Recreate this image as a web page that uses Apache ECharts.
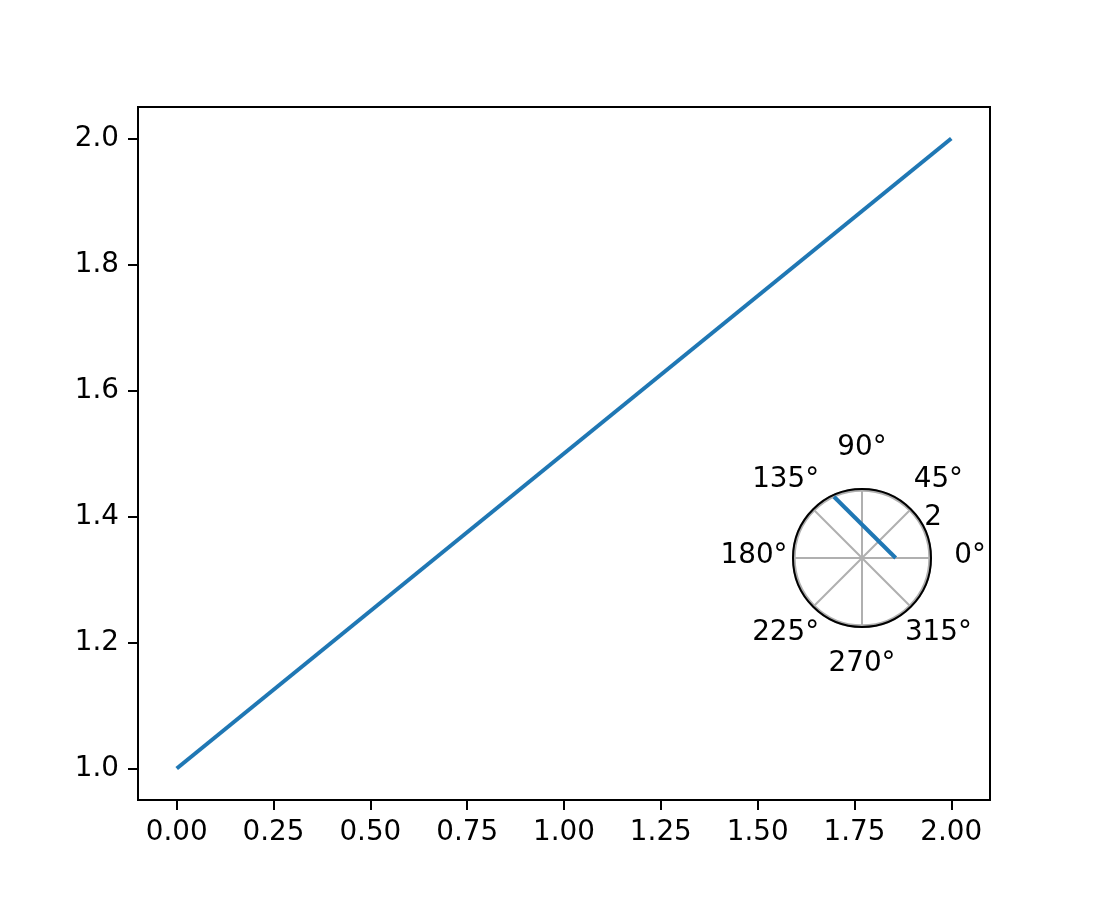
<!DOCTYPE html>
<html>
<head>
<meta charset="utf-8">
<script src="https://cdn.jsdelivr.net/npm/echarts@6/dist/echarts.min.js"></script>
<style>
html,body{margin:0;padding:0;background:#fff;}
#chart{width:1100px;height:900px;}
</style>
</head>
<body>
<div id="chart"></div>
<script>
// main axes data
const xValues = [0, 2];
const yValues = [1, 2];
const xTicks = [0, 0.25, 0.5, 0.75, 1.0, 1.25, 1.5, 1.75, 2.0];
const yTicks = [1.0, 1.2, 1.4, 1.6, 1.8, 2.0];
// polar inset data (theta in radians, r)
const thetaRad = [0, 2];
const rValues = [1, 2];
const angleTicks = [0, 45, 90, 135, 180, 225, 270, 315];
const angleTickLabels = ['0°', '45°', '90°', '135°', '180°', '225°', '270°', '315°'];
const rTicks = [2];
const rTickLabels = ['2'];

const FONT = 'DejaVu Sans';
const FS = 27.8;
const BLUE = '#1f77b4';
const PCX = 862, PCY = 558, PR = 69;

const mainData = xValues.map((x, i) => [x, yValues[i]]);
const polarData = thetaRad.map((t, i) => [rValues[i], t * 180 / Math.PI]);

const chart = echarts.init(document.getElementById('chart'), null, {renderer: 'canvas'});

const option = {
  backgroundColor: '#fff',
  animation: false,
  grid: {
    left: 138, right: 110, top: 107, bottom: 100,
    show: true, borderColor: '#000', borderWidth: 2, backgroundColor: 'transparent'
  },
  xAxis: {
    type: 'value', min: -0.1, max: 2.1,
    axisLine: {show: false, onZero: false},
    splitLine: {show: false},
    axisTick: {show: true, customValues: xTicks, length: 10, lineStyle: {color: '#000', width: 2}},
    axisLabel: {
      customValues: xTicks, margin: 19, color: '#000', fontFamily: FONT, fontSize: FS,
      formatter: v => Number(v).toFixed(2)
    }
  },
  yAxis: {
    type: 'value', min: 0.95, max: 2.05,
    axisLine: {show: false, onZero: false},
    splitLine: {show: false},
    axisTick: {show: true, customValues: yTicks, length: 10, lineStyle: {color: '#000', width: 2}},
    axisLabel: {
      customValues: yTicks, margin: 19, color: '#000', fontFamily: FONT, fontSize: FS,
      formatter: v => Number(v).toFixed(1)
    }
  },
  polar: {center: [PCX, PCY], radius: PR},
  angleAxis: {
    type: 'value', min: 0, max: 360, interval: 45, startAngle: 0, clockwise: false,
    z: 5,
    axisLine: {show: true, lineStyle: {color: '#000', width: 2}},
    axisTick: {show: false},
    axisLabel: {show: false},
    splitLine: {show: true, lineStyle: {color: '#b0b0b0', width: 2}}
  },
  radiusAxis: {
    type: 'value', min: 0, max: 2.05, interval: 2,
    z: 1,
    axisLine: {show: false},
    axisTick: {show: false},
    axisLabel: {show: false},
    splitLine: {show: true, lineStyle: {color: '#b0b0b0', width: 2}}
  },
  series: [
    {
      type: 'line', xAxisIndex: 0, yAxisIndex: 0, data: mainData,
      showSymbol: false, symbol: 'none',
      lineStyle: {color: BLUE, width: 4}, z: 3
    },
    {
      type: 'line', coordinateSystem: 'polar', polarIndex: 0, data: polarData,
      showSymbol: false, symbol: 'none',
      lineStyle: {color: BLUE, width: 4}, z: 10
    }
  ]
};
chart.setOption(option);

// polar tick labels placed around the inset
const RL = 108;
const graphics = [];
angleTicks.forEach((deg, i) => {
  const a = deg * Math.PI / 180;
  graphics.push({
    type: 'text', z: 20,
    x: PCX + RL * Math.cos(a), y: PCY - RL * Math.sin(a) - 2,
    style: {text: angleTickLabels[i], font: FS + 'px "' + FONT + '"', fill: '#000', align: 'center', verticalAlign: 'middle'}
  });
});
rTicks.forEach((r, i) => {
  const p = chart.convertToPixel({polarIndex: 0}, [r, 22.5]);
  graphics.push({
    type: 'text', z: 20,
    x: p[0] + 9, y: p[1] - 14,
    style: {text: rTickLabels[i], font: FS + 'px "' + FONT + '"', fill: '#000', align: 'center', verticalAlign: 'middle'}
  });
});
chart.setOption({graphic: graphics});
</script>
</body>
</html>
